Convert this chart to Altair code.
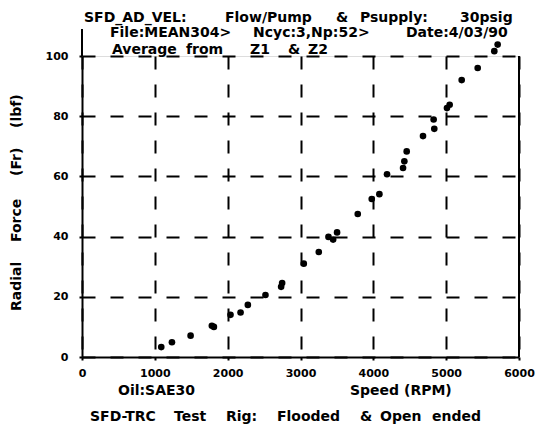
import altair as alt
import pandas as pd

# Data
speed = [1088, 1235, 1491, 1783, 1811, 2039, 2177, 2277, 2519, 2734, 2748,
         3045, 3251, 3384, 3448, 3502, 3786, 3978, 4083, 4188, 4408, 4426,
         4458, 4682, 4828, 4837, 5011, 5048, 5213, 5433, 5661, 5707]
force = [3.3, 4.9, 7.1, 10.4, 10.0, 14.0, 14.8, 17.3, 20.6, 23.3, 24.6,
         31.0, 34.9, 39.9, 39.0, 41.4, 47.5, 52.5, 54.1, 60.7, 62.8, 65.0,
         68.3, 73.4, 78.9, 75.8, 82.7, 83.8, 92.0, 96.0, 101.6, 103.8]
x_ticks = [0, 1000, 2000, 3000, 4000, 5000, 6000]
y_ticks = [0, 20, 40, 60, 80, 100]

title1 = ["SFD_AD_VEL:", "Flow/Pump", "&", "Psupply:", "30psig"]
title2 = ["File:MEAN304>", "Ncyc:3,Np:52>", "Date:4/03/90"]
title3 = ["Average", "from", "Z1", "&", "Z2"]
oil_label = "Oil:SAE30"
x_title = "Speed (RPM)"
y_title = ["Radial", "Force", "(Fr)", "(lbf)"]
footer = ["SFD-TRC", "Test", "Rig:", "Flooded", "&", "Open", "ended"]

FONT = "DejaVu Sans"
W, H = 437, 301

df = pd.DataFrame({"speed": speed, "force": force})

xs = alt.Scale(domain=[0, 6000], nice=False)
ys = alt.Scale(domain=[0, 100], nice=False)

common_axis = dict(title=None, labelFont=FONT, labelFontSize=11, labelFontWeight="bold",
                   labelColor="black", tickSize=3, tickWidth=2, tickColor="black",
                   domainColor="black", domainWidth=2, grid=True, gridColor="black",
                   gridDash=[13, 15], gridWidth=2, gridOpacity=1, labelFlush=False,
                   format="d")

points = alt.Chart(df).mark_circle(size=44, color="black", opacity=1, clip=False).encode(
    x=alt.X("speed:Q", scale=xs, axis=alt.Axis(values=x_ticks, labelPadding=7, **common_axis)),
    y=alt.Y("force:Q", scale=ys, axis=alt.Axis(values=y_ticks, labelPadding=11, **common_axis)),
)

# right frame edge (solid) and left axis extension above the top
frame = alt.Chart(pd.DataFrame({"x": [6000, 0], "y": [0, 100], "y2": [100, 109]})).mark_rule(
    color="black", strokeWidth=2, clip=False).encode(
    x=alt.X("x:Q", scale=xs), y=alt.Y("y:Q", scale=ys), y2="y2:Q")


def seg(texts, xpos, ypos, size=14, align="left", angle=0, baseline="alphabetic"):
    layers = []
    for t, xp, yp in zip(texts, xpos, ypos):
        layers.append(alt.Chart(pd.DataFrame({"t": [t]})).mark_text(
            font=FONT, fontSize=size, fontWeight="bold", color="black",
            align=align, baseline=baseline, angle=angle).encode(
            x=alt.value(xp), y=alt.value(yp), text="t:N"))
    return layers


layers = [points, frame]
layers += seg(title1, [2, 143, 254, 278, 378], [-34] * 5)
layers += seg(title2, [28, 171, 324], [-19] * 3)
layers += seg(title3, [30, 104, 168, 206, 226], [-2] * 5)
layers += seg([oil_label], [36], [339])
layers += seg([x_title], [268], [339])
layers += seg(footer, [8, 92, 144, 195, 278, 298, 350], [365] * 7)
layers += seg(y_title, [-65] * 4, [255, 186, 120, 72], angle=270, baseline="middle")

chart = alt.layer(*layers).properties(
    width=W, height=H,
    autosize=alt.AutoSizeParams(type="none"),
    padding={"left": 74, "top": 48, "right": 20, "bottom": 68},
).configure_view(stroke=None).configure(background="white")

chart.save("out.html", embed_options={"renderer": "svg", "actions": False})
